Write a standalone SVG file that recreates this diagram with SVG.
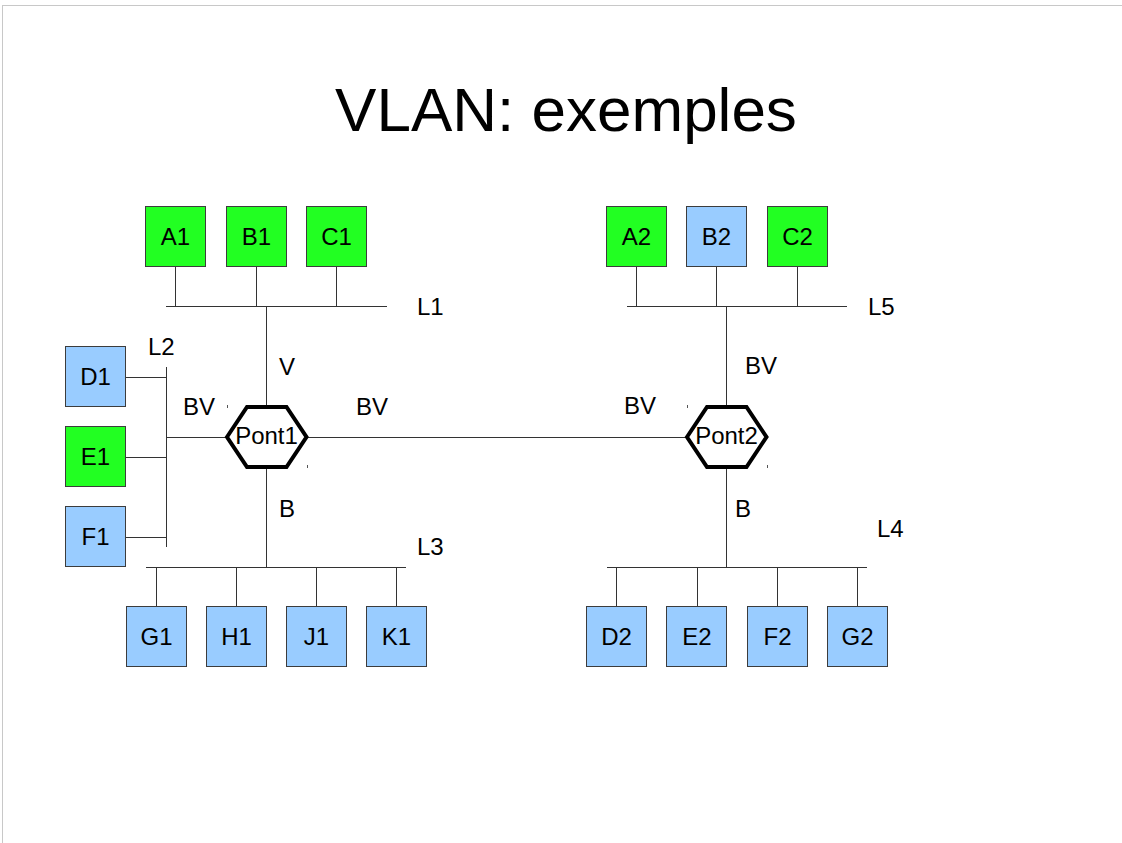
<svg xmlns="http://www.w3.org/2000/svg" width="1122" height="843" viewBox="0 0 1122 843">
<style>
text{font-family:"Liberation Sans",Arial,sans-serif;fill:#000}
.lbl{font-size:24px}
.nt{font-size:24px;text-anchor:middle}
.g rect{fill:#22ff22;stroke:#3c3c3c;stroke-width:1}
.b rect{fill:#99ccff;stroke:#3c3c3c;stroke-width:1}
.cn line{stroke:#333;stroke-width:1;fill:none}
.hex{fill:#fff;stroke:#000;stroke-width:4;stroke-linejoin:miter}
.tick{stroke:#555;stroke-width:1}
</style>
<rect x="2.5" y="5.5" width="1200" height="1000" fill="#fff" stroke="#c8c8c8" stroke-width="1"/>
<text x="566" y="131" font-size="62" text-anchor="middle">VLAN: exemples</text>

<g id="connectors" class="cn">
<!-- L1 -->
<line x1="166" y1="306.5" x2="387" y2="306.5"/>
<line x1="175.5" y1="267" x2="175.5" y2="306"/>
<line x1="256.5" y1="267" x2="256.5" y2="306"/>
<line x1="336.5" y1="267" x2="336.5" y2="306"/>
<line x1="266.5" y1="306" x2="266.5" y2="406"/>
<!-- L2 -->
<line x1="166.5" y1="367" x2="166.5" y2="547"/>
<line x1="126" y1="377.5" x2="166" y2="377.5"/>
<line x1="126" y1="457.5" x2="166" y2="457.5"/>
<line x1="126" y1="537.5" x2="166" y2="537.5"/>
<line x1="166" y1="437.5" x2="227" y2="437.5"/>
<!-- L3 -->
<line x1="266.5" y1="467" x2="266.5" y2="567"/>
<line x1="146" y1="567.5" x2="406" y2="567.5"/>
<line x1="156.5" y1="567" x2="156.5" y2="607"/>
<line x1="236.5" y1="567" x2="236.5" y2="607"/>
<line x1="316.5" y1="567" x2="316.5" y2="607"/>
<line x1="396.5" y1="567" x2="396.5" y2="607"/>
<!-- Pont1 - Pont2 -->
<line x1="307" y1="437.5" x2="687" y2="437.5"/>
<!-- L5 -->
<line x1="627" y1="306.5" x2="847" y2="306.5"/>
<line x1="636.5" y1="267" x2="636.5" y2="306"/>
<line x1="716.5" y1="267" x2="716.5" y2="306"/>
<line x1="797.5" y1="267" x2="797.5" y2="306"/>
<line x1="726.5" y1="306" x2="726.5" y2="406"/>
<!-- L4 -->
<line x1="726.5" y1="467" x2="726.5" y2="567"/>
<line x1="607" y1="567.5" x2="867" y2="567.5"/>
<line x1="616.5" y1="567" x2="616.5" y2="607"/>
<line x1="697.5" y1="567" x2="697.5" y2="607"/>
<line x1="777.5" y1="567" x2="777.5" y2="607"/>
<line x1="857.5" y1="567" x2="857.5" y2="607"/>
</g>

<g id="labels" class="lbl">
<text x="417" y="315">L1</text>
<text x="148" y="355">L2</text>
<text x="417" y="555">L3</text>
<text x="877" y="537">L4</text>
<text x="868" y="315">L5</text>
<text x="279" y="375">V</text>
<text x="183" y="415">BV</text>
<text x="356" y="415">BV</text>
<text x="624" y="414">BV</text>
<text x="745" y="374">BV</text>
<text x="279" y="517">B</text>
<text x="735" y="517">B</text>
</g>

<g id="A1" class="g"><rect x="145.5" y="206.5" width="60" height="60"/><text class="nt" x="175.5" y="245">A1</text></g>
<g id="B1" class="g"><rect x="226.5" y="206.5" width="60" height="60"/><text class="nt" x="256.5" y="245">B1</text></g>
<g id="C1" class="g"><rect x="306.5" y="206.5" width="60" height="60"/><text class="nt" x="336.5" y="245">C1</text></g>

<g id="A2" class="g"><rect x="606.5" y="206.5" width="60" height="60"/><text class="nt" x="636.5" y="245">A2</text></g>
<g id="B2" class="b"><rect x="686.5" y="206.5" width="60" height="60"/><text class="nt" x="716.5" y="245">B2</text></g>
<g id="C2" class="g"><rect x="767.5" y="206.5" width="60" height="60"/><text class="nt" x="797.5" y="245">C2</text></g>

<g id="D1" class="b"><rect x="65.5" y="346.5" width="60" height="60"/><text class="nt" x="95.5" y="385">D1</text></g>
<g id="E1" class="g"><rect x="65.5" y="426.5" width="60" height="60"/><text class="nt" x="95.5" y="465">E1</text></g>
<g id="F1" class="b"><rect x="65.5" y="506.5" width="60" height="60"/><text class="nt" x="95.5" y="545">F1</text></g>

<g id="G1" class="b"><rect x="126.5" y="606.5" width="60" height="60"/><text class="nt" x="156.5" y="645">G1</text></g>
<g id="H1" class="b"><rect x="206.5" y="606.5" width="60" height="60"/><text class="nt" x="236.5" y="645">H1</text></g>
<g id="J1" class="b"><rect x="286.5" y="606.5" width="60" height="60"/><text class="nt" x="316.5" y="645">J1</text></g>
<g id="K1" class="b"><rect x="366.5" y="606.5" width="60" height="60"/><text class="nt" x="396.5" y="645">K1</text></g>

<g id="D2" class="b"><rect x="586.5" y="606.5" width="60" height="60"/><text class="nt" x="616.5" y="645">D2</text></g>
<g id="E2" class="b"><rect x="666.5" y="606.5" width="60" height="60"/><text class="nt" x="697" y="645">E2</text></g>
<g id="F2" class="b"><rect x="747.5" y="606.5" width="60" height="60"/><text class="nt" x="777.5" y="645">F2</text></g>
<g id="G2" class="b"><rect x="827.5" y="606.5" width="60" height="60"/><text class="nt" x="857.5" y="645">G2</text></g>

<g id="Pont1">
<polygon class="hex" points="227,437 247,407 286.5,407 306.5,437 286.5,467 247,467"/>
<text class="nt" x="266.5" y="444">Pont1</text>
<line class="tick" x1="227.5" y1="405" x2="227.5" y2="408"/>
<line class="tick" x1="307.5" y1="465" x2="307.5" y2="468"/>
</g>
<g id="Pont2">
<polygon class="hex" points="687,437 707,407 746.5,407 766.5,437 746.5,467 707,467"/>
<text class="nt" x="726.5" y="444">Pont2</text>
<line class="tick" x1="687.5" y1="405" x2="687.5" y2="408"/>
<line class="tick" x1="767.5" y1="465" x2="767.5" y2="468"/>
</g>
</svg>
